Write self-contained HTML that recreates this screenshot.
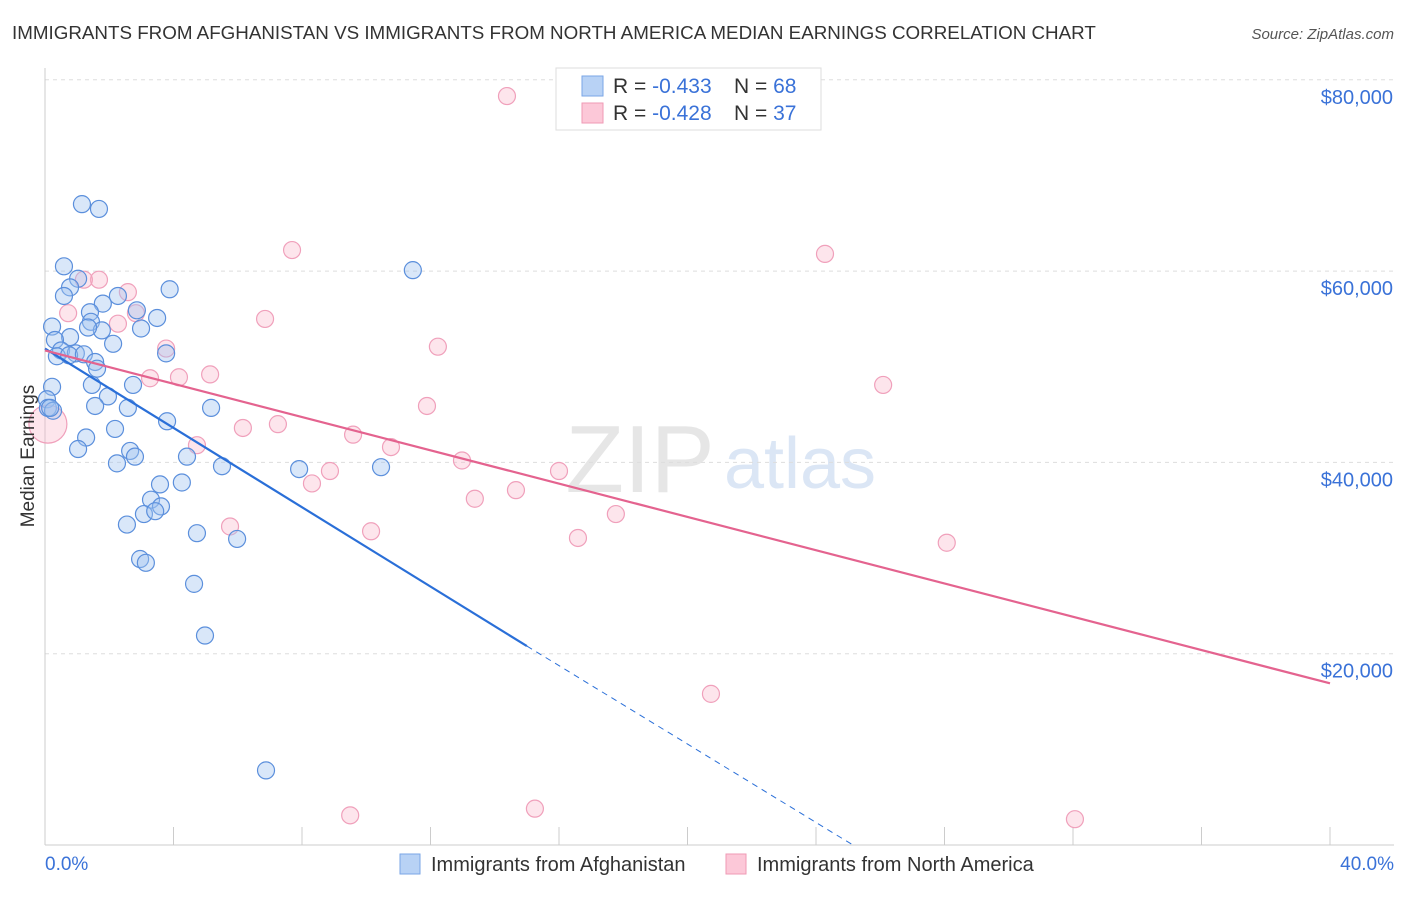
<!DOCTYPE html>
<html><head><meta charset="utf-8"><style>
body{margin:0;background:#fff;font-family:"Liberation Sans",sans-serif;}
svg text{font-family:"Liberation Sans",sans-serif;}
</style></head><body>
<svg id="chart" width="1406" height="892">
<text x="12" y="39" font-size="18.8" fill="#333">IMMIGRANTS FROM AFGHANISTAN VS IMMIGRANTS FROM NORTH AMERICA MEDIAN EARNINGS CORRELATION CHART</text>
<text x="1394" y="39" font-size="15" fill="#555" font-style="italic" text-anchor="end">Source: ZipAtlas.com</text>
<text x="640" y="492" font-size="96" fill="#e6e6e6" font-family="Liberation Serif" text-anchor="middle">ZIP</text>
<text x="800" y="488" font-size="72" fill="#dbe6f5" text-anchor="middle">atlas</text>
<g id="grid"></g>
<g id="axes"></g>
<g id="marks"></g>
<text transform="translate(34,456) rotate(-90)" font-size="19" fill="#333" text-anchor="middle">Median Earnings</text>
<text x="45" y="870" font-size="19" fill="#3a72d8">0.0%</text>
<text x="1394" y="870" font-size="19" fill="#3a72d8" text-anchor="end">40.0%</text>
<g>
<rect x="556" y="68" width="265" height="62" fill="#fff" stroke="#ddd"/>
<rect x="582" y="76" width="21" height="20" fill="#b8d2f5" stroke="#7aa6e6"/>
<rect x="582" y="103" width="21" height="20" fill="#fcc8d8" stroke="#ef9ab5"/>
<text x="613" y="93" font-size="21" fill="#333">R = <tspan fill="#3a72d8">-0.433</tspan><tspan x="734">N = </tspan><tspan fill="#3a72d8">68</tspan></text>
<text x="613" y="120" font-size="21" fill="#333">R = <tspan fill="#3a72d8">-0.428</tspan><tspan x="734">N = </tspan><tspan fill="#3a72d8">37</tspan></text>
</g>
<g>
<rect x="400" y="854" width="20" height="20" fill="#b8d2f5" stroke="#7aa6e6"/>
<text x="431" y="871" font-size="20" fill="#333">Immigrants from Afghanistan</text>
<rect x="726" y="854" width="20" height="20" fill="#fcc8d8" stroke="#ef9ab5"/>
<text x="757" y="871" font-size="20" fill="#333">Immigrants from North America</text>
</g>
</svg>
<script>
const yTicks=[20000,40000,60000,80000];
const yTickLabels=["$20,000","$40,000","$60,000","$80,000"];
const xTicks=[0,4,8,12,16,20,24,28,32,36,40];
const blueX=[1.15,1.68,0.59,1.03,0.78,0.59,2.27,3.88,1.8,1.4,2.86,3.49,0.22,1.43,2.99,0.78,0.31,1.77,1.34,2.12,0.5,0.96,0.37,0.75,1.21,1.56,3.77,1.62,0.22,1.46,2.74,1.96,0.06,1.56,2.58,0.09,0.25,3.8,5.17,2.18,1.28,1.03,2.65,2.8,2.24,4.42,5.51,7.91,10.46,3.58,4.26,3.3,3.61,3.08,3.43,2.55,4.73,5.98,2.96,3.14,4.64,4.98,6.88,11.45,0.16];
const blueY=[67000,66500,60500,59200,58300,57400,57400,58100,56600,55700,55900,55100,54200,54700,54000,53100,52800,53800,54100,52400,51700,51400,51100,51200,51300,50500,51400,49800,47900,48100,48100,46900,46600,45900,45700,45700,45400,44300,45700,43500,42600,41400,41200,40600,39900,40600,39600,39300,39500,37700,37900,36100,35400,34600,34900,33500,32600,32000,29900,29500,27300,21900,7800,60100,45700];
const pinkX=[14.38,7.69,24.28,1.68,1.21,2.58,0.72,6.85,2.27,2.83,3.77,12.23,3.27,4.17,5.14,26.09,11.89,0.09,4.73,6.16,7.25,9.59,10.77,12.98,8.87,8.31,16.0,13.38,14.66,17.77,5.76,10.15,16.59,28.07,20.73,9.5,15.25,32.06];
const pinkY=[78300,62200,61800,59100,59100,57800,55600,55000,54500,55600,51900,52100,48800,48900,49200,48100,45900,44000,41800,43600,44000,42900,41600,40200,39100,37800,39100,36200,37100,34600,33300,32800,32100,31600,15800,3100,3800,2700];
function X(v){return 45+v/40*1285;}
function Y(v){return 845-v/20000*191.3;}
const NS="http://www.w3.org/2000/svg";
function mk(p,t,a){const e=document.createElementNS(NS,t);for(const k in a)e.setAttribute(k,a[k]);p.appendChild(e);return e;}
const grid=document.getElementById('grid'),axes=document.getElementById('axes'),marks=document.getElementById('marks');
yTicks.forEach((v,i)=>{
 const l=mk(grid,'line',{x1:45,x2:1394,y1:Y(v),y2:Y(v),stroke:'#ddd','stroke-dasharray':'4,4'});
 
 
 const t=mk(axes,'text',{x:1393,y:Y(v)+24,'font-size':20,fill:'#3a72d8','text-anchor':'end'});
 t.textContent=yTickLabels[i];
 
 
});
const ax=mk(axes,'line',{x1:45,x2:1394,y1:845,y2:845,stroke:'#ccc'});


const ay=mk(axes,'line',{x1:45,x2:45,y1:68,y2:845,stroke:'#ccc'});


xTicks.forEach(v=>{const t=mk(axes,'line',{x1:X(v),x2:X(v),y1:827,y2:845,stroke:'#ccc'});
 
 });
pinkX.forEach((x,i)=>{const c=mk(marks,'circle',{cx:X(x),cy:Y(pinkY[i]),r:i==17?19:8.5,fill:'rgba(248,180,200,0.35)',stroke:'#f0a0bb','stroke-width':1.2});
 
 });
blueX.forEach((x,i)=>{const c=mk(marks,'circle',{cx:X(x),cy:Y(blueY[i]),r:8.5,fill:'rgba(160,196,240,0.4)',stroke:'#5b8fdc','stroke-width':1.2});
 
 });
const bl=mk(marks,'line',{x1:X(0),y1:Y(51900),x2:X(15),y2:Y(20800),stroke:'#2a6fd8','stroke-width':2.2});


const bd=mk(marks,'line',{x1:X(15),y1:Y(20800),x2:X(25.15),y2:Y(0),stroke:'#2a6fd8','stroke-width':1,'stroke-dasharray':'6,5'});


const pl=mk(marks,'line',{x1:X(0),y1:Y(51700),x2:X(40),y2:Y(16900),stroke:'#e4638f','stroke-width':2.2});


</script>
</body></html>
